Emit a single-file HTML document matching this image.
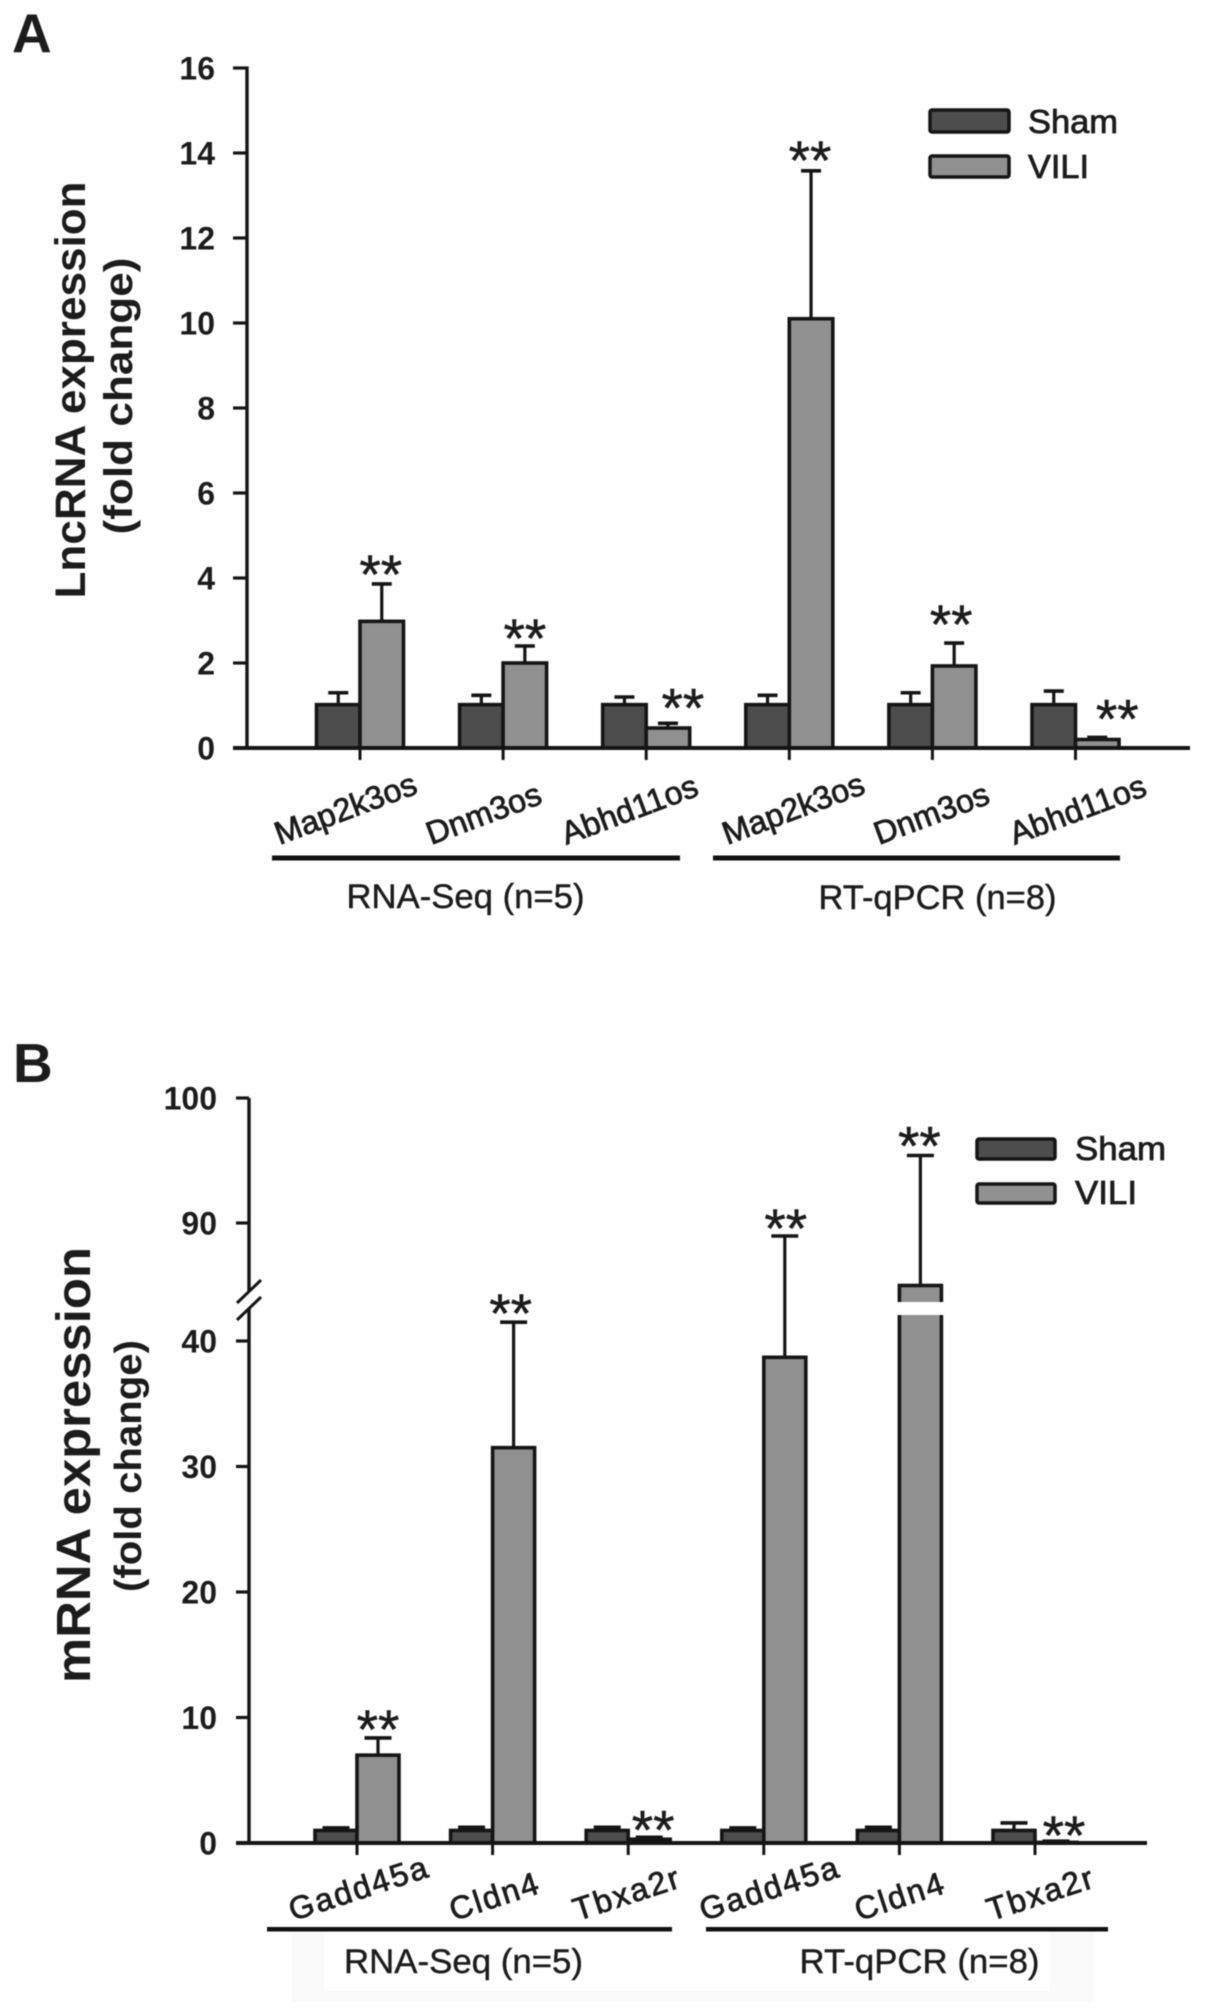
<!DOCTYPE html>
<html lang="en">
<head>
<meta charset="utf-8">
<title>LncRNA and mRNA expression</title>
<style>
html,body{margin:0;padding:0;background:#fff;}
body{width:1205px;height:2014px;overflow:hidden;}
svg{display:block;filter:blur(0.5px);}
text{font-family:"Liberation Sans",sans-serif;fill:#1c1c1c;}
.b{font-weight:bold;}
</style>
</head>
<body>
<svg id="fig" xmlns="http://www.w3.org/2000/svg" width="1205" height="2014" viewBox="0 0 1205 2014">
  <rect x="0" y="0" width="1205" height="2014" fill="#fefefe"/>
  <rect x="292" y="1930" width="802" height="72" fill="#fafafa"/>
  <rect x="324" y="1930" width="726" height="61" fill="#fefefe"/>

  <text class="b" x="12" y="52" font-size="55">A</text>
  <text class="b" x="13" y="1082" font-size="55">B</text>

  <text class="b" font-size="43" text-anchor="middle" textLength="417" lengthAdjust="spacingAndGlyphs" transform="translate(85,390) rotate(-90)">LncRNA expression</text>
  <text class="b" font-size="40" text-anchor="middle" textLength="277" lengthAdjust="spacingAndGlyphs" transform="translate(132,396) rotate(-90)">(fold change)</text>
  <text class="b" font-size="48" text-anchor="middle" textLength="436" lengthAdjust="spacingAndGlyphs" transform="translate(90,1465) rotate(-90)">mRNA expression</text>
  <text class="b" font-size="38" text-anchor="middle" textLength="252" lengthAdjust="spacingAndGlyphs" transform="translate(141,1466) rotate(-90)">(fold change)</text>

  <g>
    <rect x="930" y="110" width="79" height="22" rx="2" fill="#4d4d4d" stroke="#151515" stroke-width="3.5"/>
    <text x="1028" y="133" font-size="33" textLength="90" lengthAdjust="spacingAndGlyphs" stroke="#1c1c1c" stroke-width="0.8">Sham</text>
    <rect x="930" y="156" width="79" height="21" rx="2" fill="#909090" stroke="#151515" stroke-width="3.5"/>
    <text x="1028" y="178" font-size="33" textLength="61" lengthAdjust="spacingAndGlyphs" stroke="#1c1c1c" stroke-width="0.8">VILI</text>
  </g>
  <g>
    <rect x="977" y="1139" width="78" height="20" rx="2" fill="#4d4d4d" stroke="#151515" stroke-width="3.5"/>
    <text x="1075" y="1160" font-size="33" textLength="91" lengthAdjust="spacingAndGlyphs" stroke="#1c1c1c" stroke-width="0.8">Sham</text>
    <rect x="977" y="1184" width="78" height="19" rx="2" fill="#909090" stroke="#151515" stroke-width="3.5"/>
    <text x="1075" y="1204" font-size="33" textLength="62" lengthAdjust="spacingAndGlyphs" stroke="#1c1c1c" stroke-width="0.8">VILI</text>
  </g>

  <rect x="272" y="855.5" width="408" height="5" fill="#111"/>
  <rect x="713" y="855.5" width="407" height="5" fill="#111"/>
  <text x="346.5" y="908" font-size="34" textLength="238" lengthAdjust="spacingAndGlyphs" stroke="#1c1c1c" stroke-width="0.4">RNA-Seq (n=5)</text>
  <text x="818.5" y="909" font-size="34" textLength="238" lengthAdjust="spacingAndGlyphs" stroke="#1c1c1c" stroke-width="0.4">RT-qPCR (n=8)</text>

  <rect x="267" y="1927" width="405" height="4.5" fill="#111"/>
  <rect x="706" y="1927" width="402" height="4.5" fill="#111"/>
  <text x="344" y="1973" font-size="34" textLength="239" lengthAdjust="spacingAndGlyphs" stroke="#1c1c1c" stroke-width="0.4">RNA-Seq (n=5)</text>
  <text x="799.5" y="1973" font-size="34" textLength="240" lengthAdjust="spacingAndGlyphs" stroke="#1c1c1c" stroke-width="0.4">RT-qPCR (n=8)</text>
</svg>
<script>
// ---- Panel A data ----
var categoriesA = ['Map2k3os','Dnm3os','Abhd11os','Map2k3os','Dnm3os','Abhd11os'];
var shamA = [1.02,1.02,1.02,1.02,1.02,1.02];
var shamErrTopA = [1.3,1.24,1.2,1.24,1.3,1.34];
var viliA = [2.98,2.0,0.47,10.1,1.93,0.2];
var viliErrTopA = [3.86,2.4,0.58,13.58,2.47,0.25];
var starPadA = [0.4,0.35,0.54,0.42,0.61,0.61];
var yTicksA = [0,2,4,6,8,10,12,14,16];

// ---- Panel B data ----
var categoriesB = ['Gadd45a','Cldn4','Tbxa2r','Gadd45a','Cldn4','Tbxa2r'];
var shamB = [1.0,1.0,1.0,1.0,1.0,1.0];
var shamErrTopB = [1.2,1.25,1.25,1.2,1.25,1.6];
var viliB = [7.0,31.5,0.3,38.7,85.0,0.05];
var viliErrTopB = [8.37,41.5,0.45,88.96,95.4,0.15];
var starPadB = [1.28,1.28,1.2,1.2,1.36,1.04];
var yTicksB = [0,10,20,30,40,90,100];

// ---- Layout only ----
var labelNudgeA = [-80.5,-72,-80,-62,-53.5,-61];
var labelNudgeB = [-64,-39,-51,-60,-40.5,-44];
var starNudgeA = [-1,0,15,-1,-3,20];
var starNudgeB = [0,-3,4,1,-1,8];

var svg = document.getElementById('fig');
var NS = 'http://www.w3.org/2000/svg';
var BAR_STROKE = '#151515';

function make(tag, parent, props) {
  var el = document.createElementNS(NS, tag);
  for (var k in props) el.setAttribute(k, props[k]);
  (parent || svg).appendChild(el);
  return el;
}

function yScaleA(v) { return 748 - v * 42.5; }

var breakLow = 42.07, breakHigh = 83.7;
function yScaleB(v) {
  if (v <= breakLow) return 1843 - v * 12.55;
  if (v >= breakHigh) return 1223 - (v - 90) * 12.5;
  return 1843 - breakLow * 12.55;
}

function drawPanel(p) {
  var key = p.key;
  var group = make('g', svg, {});
  
  

  p.yTicks.forEach(function (t) {
    var y = p.y(t);
    var tick = make('line', group, {x1: p.tickLeft, x2: p.axisX, y1: y, y2: y, stroke: '#151515', 'stroke-width': 3.2});
    
    
    var lab = make('text', group, {x: p.labelRight, y: y + 11.5, 'text-anchor': 'end', 'font-size': 32, 'font-weight': 'bold'});
    lab.textContent = String(t);
    
    
  });

  p.categories.forEach(function (cat, i) {
    var cx = p.firstCenter + i * p.spacing;

    function errorBar(center, top, base, series) {
      var stem = make('line', group, {x1: center, x2: center, y1: top, y2: base, stroke: '#151515', 'stroke-width': 3.2});
      
      
      var cap = make('line', group, {x1: center - p.capW / 2, x2: center + p.capW / 2, y1: top, y2: top, stroke: '#151515', 'stroke-width': 3.6});
      
      
    }

    errorBar(cx - p.barW / 2, p.y(p.shamErr[i]), p.y(p.sham[i]), 'sham');
    errorBar(cx + p.barW / 2, p.y(p.viliErr[i]), p.y(p.vili[i]), 'vili');

    var y0 = p.y(0);
    var s = make('rect', group, {x: cx - p.barW, y: p.y(p.sham[i]), width: p.barW, height: y0 - p.y(p.sham[i]), fill: '#4d4d4d', stroke: BAR_STROKE, 'stroke-width': 3.6});
    
    
    var v = make('rect', group, {x: cx, y: p.y(p.vili[i]), width: p.barW, height: y0 - p.y(p.vili[i]), fill: '#909090', stroke: BAR_STROKE, 'stroke-width': 3.6});
    
    

    if (p.breakY && p.vili[i] > breakHigh) {
      var gap = make('rect', group, {x: cx - 4, y: p.breakY.top, width: p.barW + 8, height: p.breakY.bottom - p.breakY.top, fill: '#fefefe'});
      
      
    }

    var starY = p.y(p.viliErr[i]) - p.starPad[i] * p.pxPerUnit;
    var star = make('text', group, {x: cx + p.barW / 2 + p.starNudge[i], y: starY + 26, 'text-anchor': 'middle', 'font-size': 55, stroke: '#1c1c1c', 'stroke-width': 0.5});
    star.textContent = '**';
    
    

    var xt = make('line', group, {x1: cx, x2: cx, y1: y0, y2: y0 + 12, stroke: '#151515', 'stroke-width': 3});
    
    

    var lx = cx + p.labelNudge[i];
    var lab = make('text', group, {x: lx, y: p.labelY, 'font-size': p.labelSize, 'letter-spacing': p.labelSpacing, stroke: '#1c1c1c', 'stroke-width': 0.8, transform: 'rotate(' + p.labelAngle + ' ' + lx + ' ' + p.labelY + ')'});
    lab.textContent = cat;
    
    
  });

  var xAxis = make('line', group, {x1: p.tickLeft, x2: p.xEnd, y1: p.y(0), y2: p.y(0), stroke: '#151515', 'stroke-width': 4});
  
  

  if (p.breakY) {
    var upper = make('line', group, {x1: p.axisX, x2: p.axisX, y1: p.y(p.yTicks[p.yTicks.length - 1]), y2: 1292, stroke: '#151515', 'stroke-width': 3.4});
    
    
    var lower = make('line', group, {x1: p.axisX, x2: p.axisX, y1: 1308, y2: p.y(0), stroke: '#151515', 'stroke-width': 3.4});
    
    
    var slashA = make('line', group, {x1: 237, y1: 1303, x2: 261, y2: 1280, stroke: '#151515', 'stroke-width': 3});
    
    
    var slashB = make('line', group, {x1: 237, y1: 1320, x2: 261, y2: 1297, stroke: '#151515', 'stroke-width': 3});
    
    
  } else {
    var axis = make('line', group, {x1: p.axisX, x2: p.axisX, y1: p.y(p.yTicks[p.yTicks.length - 1]) - 1.5, y2: p.y(0), stroke: '#151515', 'stroke-width': 3.4});
    
    
  }
}

drawPanel({
  key: 'a', y: yScaleA, categories: categoriesA, sham: shamA, shamErr: shamErrTopA,
  vili: viliA, viliErr: viliErrTopA, starPad: starPadA, yTicks: yTicksA, pxPerUnit: 42.5,
  axisX: 247, tickLeft: 233, labelRight: 215, firstCenter: 360, spacing: 143.1, barW: 43.5,
  capW: 20, xEnd: 1190, starNudge: starNudgeA, labelNudge: labelNudgeA, labelY: 845, labelAngle: -20.5, labelSpacing: 0, labelSize: 32.3, breakY: null
});
drawPanel({
  key: 'b', y: yScaleB, categories: categoriesB, sham: shamB, shamErr: shamErrTopB,
  vili: viliB, viliErr: viliErrTopB, starPad: starPadB, yTicks: yTicksB, pxPerUnit: 12.5,
  axisX: 249, tickLeft: 236, labelRight: 217, firstCenter: 357, spacing: 135.6, barW: 42,
  capW: 27, xEnd: 1147, starNudge: starNudgeB, labelNudge: labelNudgeB, labelY: 1921, labelAngle: -18, labelSpacing: 2, labelSize: 32,
  breakY: {top: 1302, bottom: 1315}
});
</script>
</body>
</html>
